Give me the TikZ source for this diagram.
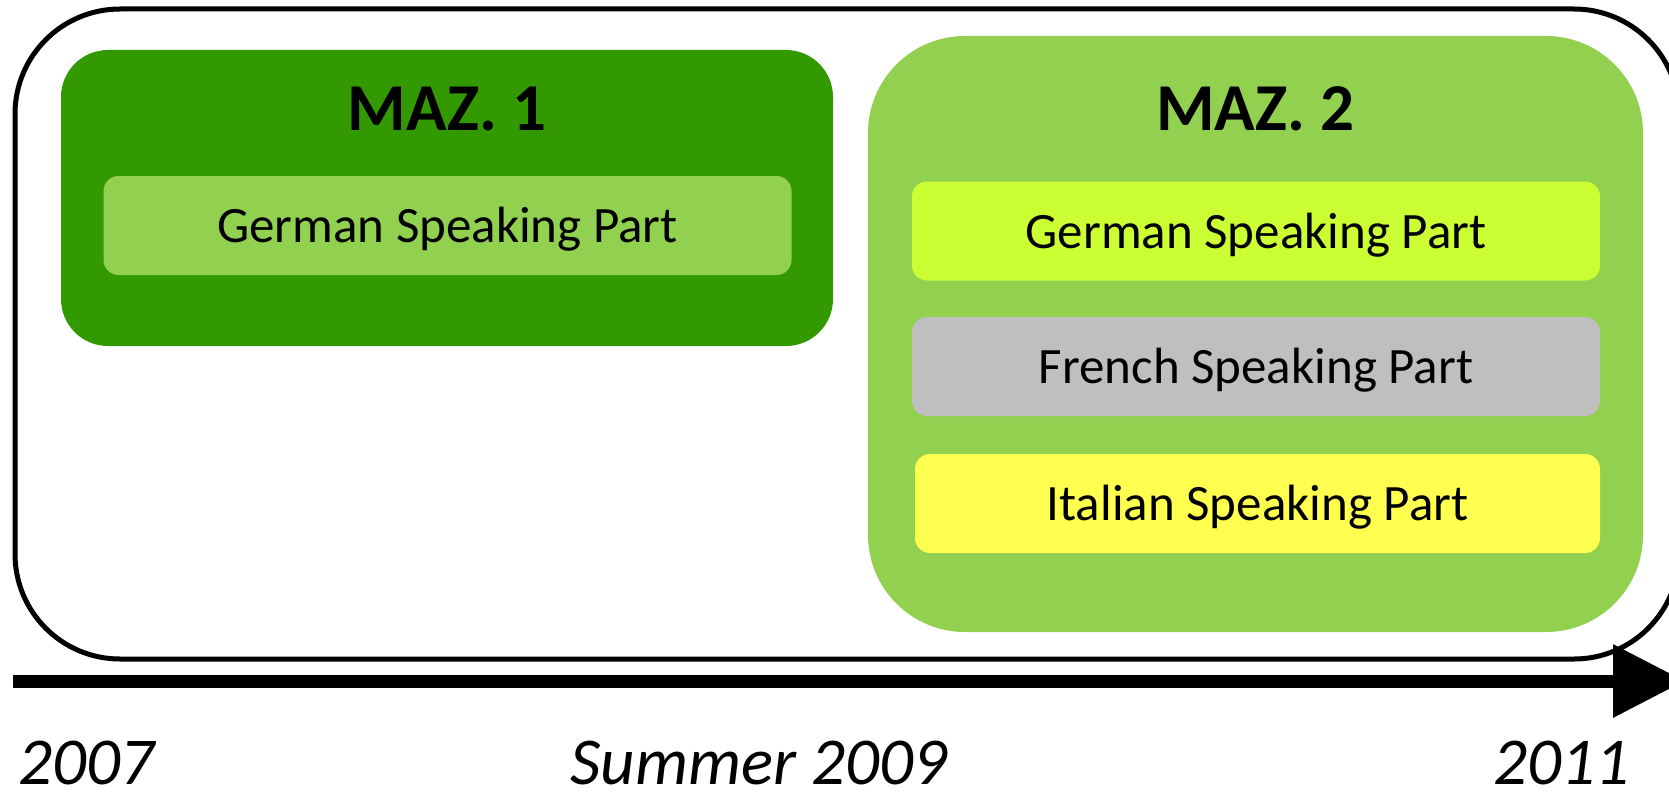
\documentclass[tikz,border=0pt]{standalone}
\usepackage{fontspec}
\setmainfont{Carlito}
\usetikzlibrary{arrows.meta}
\definecolor{mazdark}{HTML}{339900}
\definecolor{mazlight}{HTML}{92D050}
\definecolor{partde}{HTML}{CCFF33}
\definecolor{partfr}{HTML}{BFBFBF}
\definecolor{partit}{HTML}{FFFF4F}
\begin{document}
\begin{tikzpicture}[x=1pt, y=-1pt, inner sep=0pt,
    part/.style={fill=#1, rounded corners=15pt, minimum width=688pt, minimum height=99pt,
      text height=37pt, text depth=3pt, font=\fontsize{51}{61}\selectfont},
    title/.style={font=\fontsize{67}{80}\selectfont\bfseries},
    year/.style={font=\fontsize{67}{80}\selectfont\itshape, text depth=0pt}]
  \useasboundingbox (0,0) rectangle (1669,792);
  \node[draw, line width=5pt, rounded corners=105pt, minimum width=1664pt, minimum height=650pt] (period) at (847,334) {};
  \node[fill=mazdark, rounded corners=47pt, minimum width=772pt, minimum height=296pt] (maz1) at (447,198) {};
  \node[fill=mazlight, rounded corners=97pt, minimum width=775pt, minimum height=596pt] (maz2) at (1255.5,334) {};
  \node[title, anchor=base] (maz1title) at (447,130) {MAZ. 1};
  \node[title, anchor=base] (maz2title) at (1255.5,130) {MAZ. 2};
  \node[part=mazlight] (de1) at (447.5,225.5) {German Speaking Part};
  \node[part=partde] (de2) at (1256,231) {German Speaking Part};
  \node[part=partfr] (fr2) at (1256,366.5) {French Speaking Part};
  \node[part=partit, minimum width=685pt] (it2) at (1257.5,503.5) {Italian Speaking Part};
  \coordinate (start) at (13,681);
  \coordinate (end) at (1685,681);
  \draw[line width=13pt, -{Triangle[length=72pt, width=70pt]}] (start) -- (end);
  \node[year, anchor=base west] (y2007) at (18,784) {2007};
  \node[year, anchor=base] (y2009) at (759,784) {Summer 2009};
  \node[year, anchor=base] (y2011) at (1561,784) {2011};
\end{tikzpicture}
\end{document}
